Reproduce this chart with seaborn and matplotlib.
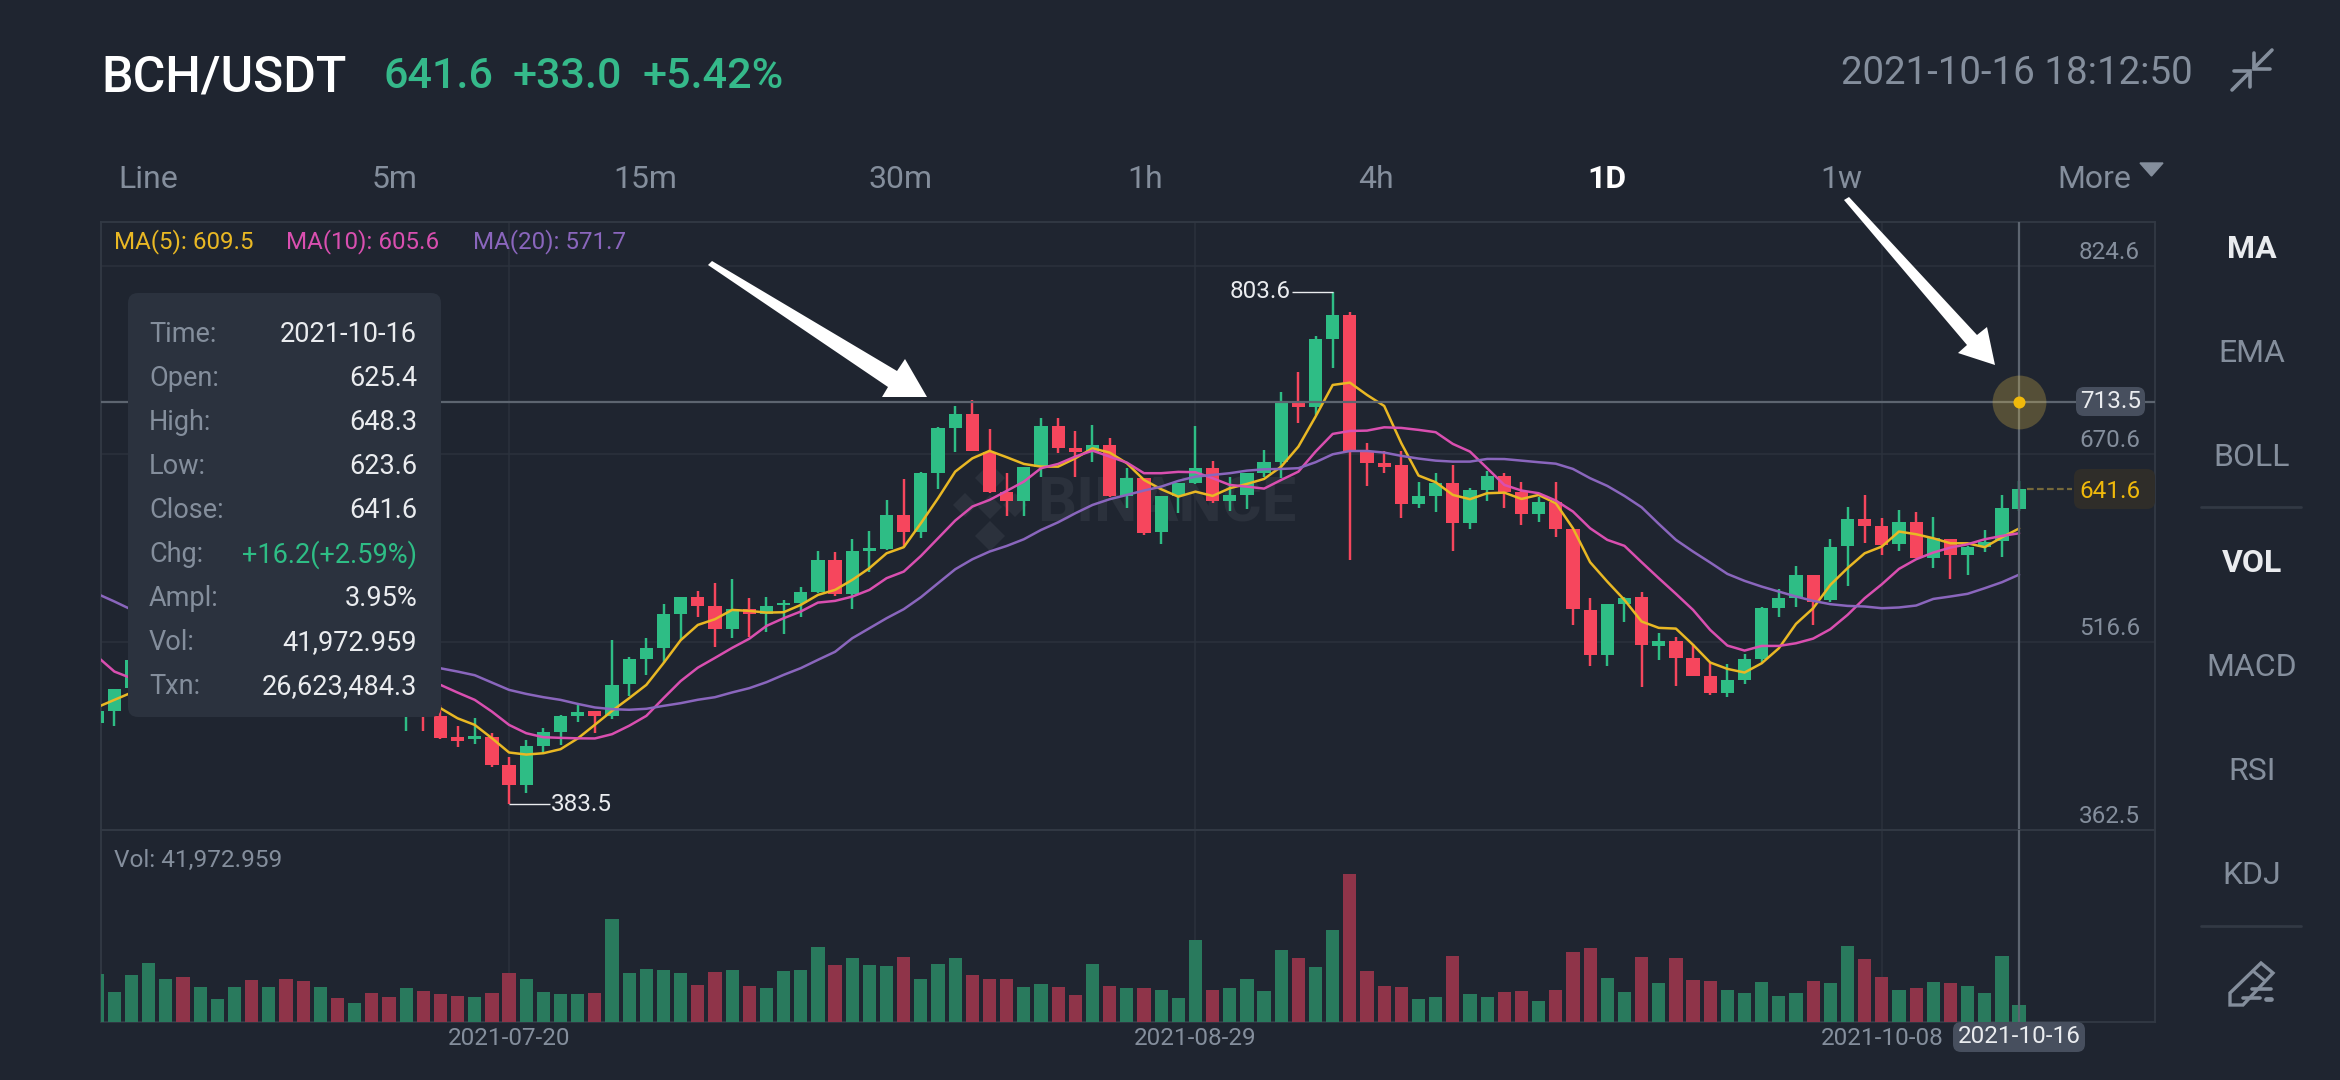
import matplotlib
matplotlib.use("Agg")
import matplotlib.pyplot as plt
from matplotlib.patches import FancyBboxPatch, Polygon
import numpy as np
import seaborn as sns

# candles, one per day, 2021-06-26 .. 2021-10-16
opens = [450, 460.3, 478.7, 502, 520, 532, 518, 528, 536, 544,
         530, 540, 522, 508, 516, 504, 510, 496, 470, 480,
         456.3, 439, 436.9, 438.5, 415.6, 399.5, 431.4, 442.6, 455.5, 459.6,
         456, 482, 502.5, 512, 539.5, 553.2, 546.1, 527, 543.4, 539.5,
         546.9, 548.8, 557.6, 583.8, 555.9, 591.4, 592.5, 620.4, 606.4, 654.8,
         692.2, 703.4, 672.5, 639.5, 632.4, 659.7, 693.8, 675.2, 672.5, 678,
         636.2, 650.7, 606.4, 636.2, 647.1, 658.9, 632.4, 637, 655.3, 664.3,
         713.5, 709.4, 764.5, 784.4, 673.3, 663.5, 661.6, 629.4, 636.5, 646.6,
         614.3, 641.1, 652.6, 639.7, 621.4, 631, 608.9, 542.8, 505.9, 547.7,
         553.2, 513.6, 517.2, 503.8, 488.8, 474.6, 485.5, 503, 544.2, 552.4,
         571.5, 551, 595.3, 617.4, 611.6, 596.9, 615.2, 585.2, 601, 587.9,
         594.7, 599.3, 625.4]
closes = [460.1, 478.4, 501.9, 520, 532, 518, 528, 536, 544, 530,
          540, 522, 508, 516, 504, 510, 496, 484, 480, 465,
          438.2, 435.8, 439.6, 415.8, 399.5, 431.4, 442.6, 455.5, 459.3, 455.5,
          481.4, 502.5, 512, 539.3, 553.2, 546.1, 527, 543.4, 539.5, 546.1,
          548.8, 557.6, 583.8, 555.6, 591.4, 593.9, 620.4, 606.4, 654.8, 692.2,
          703.4, 673.3, 639.5, 632.4, 659.7, 693.8, 675.8, 672, 678, 636.2,
          650.7, 606.2, 636.2, 646.6, 658.9, 632.4, 637, 655.3, 664.3, 713.5,
          709.1, 764.5, 784.4, 673.3, 663, 660.2, 629.4, 636.2, 646.6, 614.3,
          641.1, 652.6, 639.7, 621.4, 631, 608.9, 543.4, 505.9, 547.7, 552.9,
          514.2, 517.2, 503.8, 488.8, 474.6, 485.5, 503, 544.2, 552.4, 571,
          549.6, 594.7, 617.4, 611.6, 596, 615.2, 585.2, 601.5, 587.9, 594.7,
          598.8, 626.1, 641.6]
highs = [460.1, 478.4, 502, 528, 540, 538, 534, 541, 550, 548,
         545, 543, 526, 520, 519, 514, 513, 499, 486, 484,
         465, 447.3, 454.1, 442.3, 422.7, 436.4, 445.9, 456.8, 464.8, 460,
         518.2, 504.6, 519.6, 547.7, 553.5, 558.4, 565.2, 567.9, 552.4, 553.2,
         551, 561.4, 591.2, 590, 601.2, 607.8, 632.9, 650.1, 655.6, 693,
         709.9, 714.8, 691, 655.3, 660, 700.3, 699.8, 689.4, 694.3, 684,
         658.9, 651, 636.5, 647, 693.5, 665.1, 651.5, 655.3, 673.9, 721.6,
         737.5, 767.2, 803.6, 787.2, 679.3, 673.3, 673.3, 648, 655.3, 661.6,
         642.5, 656.7, 655.3, 648, 635.6, 647.4, 609, 552.4, 548, 553,
         557.3, 523.7, 520.4, 514.7, 499.1, 498.3, 506.5, 545, 560, 579.1,
         571.5, 600.7, 626.9, 637, 617.9, 624.7, 623.4, 618.7, 601, 595,
         608.4, 637, 648.3]
lows = [450, 447.3, 478, 495, 512, 512, 514, 524, 531, 526,
        526, 518, 503, 504, 500, 499, 492, 480, 444, 444,
        437, 430.9, 432.8, 414, 383.5, 392.7, 426.8, 432.2, 450.6, 441.9,
        453.3, 471.9, 489.6, 499.2, 518.2, 537.4, 512.8, 520.2, 521, 525.1,
        523.2, 537.4, 557, 554.3, 543.6, 574.2, 592, 594.7, 601.5, 641.9,
        672.2, 673, 638.4, 620.1, 620.1, 652, 671.1, 652, 664.3, 635.1,
        626.6, 604.3, 596.6, 622.5, 646, 630.2, 624.2, 625.3, 652, 650.7,
        696.3, 702.5, 741.3, 583.8, 644.4, 655.3, 618.4, 626.1, 623.4, 591.4,
        608.9, 632.4, 626.1, 612.4, 614.6, 602.3, 530.5, 497, 497, 532.7,
        479.5, 501.9, 480.6, 488.5, 472.7, 471.8, 482.2, 500.5, 536.8, 545,
        530.5, 549.6, 562.5, 598, 587.9, 591.4, 585, 577, 568.2, 571.8,
        590.6, 586, 623.6]

ma5 = [463.1, 469.1, 475.1, 482, 490, 497, 503, 510, 515, 520,
       522, 523, 521, 517, 512, 506, 500, 492, 482, 472,
       462.3, 454, 448.6, 437.7, 426, 424.3, 425.4, 428.7, 437.5, 448.7,
       460.1, 470.5, 481.4, 499.2, 518, 530.5, 535.2, 542.8, 542, 540.6,
       540.9, 546.9, 555.1, 559.2, 567.4, 577, 589.2, 594.2, 613.8, 634.3,
       656.1, 667, 673.1, 667.9, 662.4, 660.2, 660.2, 667, 675.2, 671.7,
       663, 649.3, 641.7, 635.6, 639.7, 636.2, 642.5, 646, 650.1, 660.2,
       676.6, 701.2, 727.1, 729, 718.9, 709.9, 679.3, 652.9, 647.4, 637,
       633.5, 638.4, 638.9, 633.7, 637, 630.2, 609.7, 581.9, 566, 551,
       533.3, 528.1, 527.5, 514.2, 499.7, 494.5, 491.5, 499.1, 511.4, 531.4,
       544.2, 563.3, 577, 589.2, 594.7, 607, 604.8, 601.5, 597.4, 597.4,
       594.2, 602.3, 609.5]
ma10 = [504.6, 492.3, 486.8, 486, 488, 491, 494, 498, 502, 506,
        509, 511, 511, 509, 507, 504, 500, 496, 491, 486,
        481.4, 475.1, 469.1, 459.5, 448.6, 441.8, 438.5, 438, 437.6, 437.5,
        441, 447.9, 456, 470.5, 484.5, 495.5, 503.5, 511.7, 519.2, 529.7,
        536, 541.5, 548.8, 550.2, 553.7, 559.2, 568.8, 574.2, 587, 601.5,
        616, 627.5, 632.9, 640.3, 647.9, 658.9, 662.4, 668.4, 673.3, 668.4,
        663.5, 654.8, 654.8, 655.9, 655.6, 650.7, 645.2, 643.8, 642.2, 649.3,
        656.1, 672.5, 687, 689.4, 689.7, 692.4, 691.9, 690.3, 688.4, 678.8,
        672.5, 658.9, 645.2, 640.6, 638.4, 632.4, 623.4, 609.7, 600.2, 595.3,
        581.9, 568.8, 556, 542.8, 526.4, 513.6, 509.5, 513.3, 513.3, 515.5,
        519.3, 527, 538.7, 552.4, 563.8, 576.4, 584.3, 589.8, 593.9, 596.6,
        600.7, 603.4, 605.6]
ma20 = [556, 549.7, 543, 538, 534, 530, 527, 524, 522, 520,
        518, 516, 514, 512, 510, 508, 506, 503, 500, 497,
        495, 492.3, 489.3, 483.3, 477.3, 474, 471.3, 469.1, 465.8, 462.9,
        461.5, 461, 461.8, 464.2, 466.4, 469.2, 471.3, 475.2, 478.7, 483.6,
        489.6, 495.1, 501.9, 508.5, 519.6, 527.8, 536, 543.4, 553.2, 564.7,
        576.1, 584.3, 590.6, 595.2, 600.7, 608.3, 614.6, 622, 628.8, 633.5,
        637, 640.6, 643.8, 648.5, 652, 653.4, 654.8, 656.9, 658, 658.3,
        658.9, 663.8, 670.3, 673, 673, 671.7, 669, 666.8, 665.1, 664.3,
        664.3, 666.5, 666.4, 665.1, 663.8, 662.6, 658.3, 650.7, 644.4, 636.2,
        626.9, 613.3, 600.2, 590.6, 581.6, 572.3, 566.6, 561.9, 557.8, 553.8,
        550.2, 547.5, 546.1, 545.6, 544.2, 544.8, 546.4, 551.8, 553.8, 556,
        560.6, 565.5, 571.7]

# volume in thousands
vol_k = [120, 75, 117, 149, 108, 113, 87, 59, 87, 106,
         87, 108, 102, 87, 60, 48, 73, 63, 85, 78,
         71, 66, 63, 72, 122, 108, 76, 71, 70, 73,
         259, 123, 134, 130, 124, 92, 126, 130, 90, 86,
         127, 130, 188, 143, 160, 142, 141, 163, 108, 145,
         162, 118, 108, 108, 87, 96, 87, 69, 146, 91,
         85, 85, 80, 60, 205, 81, 85, 108, 77, 181,
         160, 139, 230, 371, 129, 90, 89, 58, 63, 167,
         71, 62, 76, 79, 54, 80, 177, 186, 110, 75,
         163, 97, 160, 105, 102, 80, 72, 100, 66, 72,
         102, 99, 192, 158, 113, 81, 85, 101, 97, 90,
         74, 167, 42]

price_ticks = [824.6, 670.6, 516.6, 362.5]
date_ticks = [24, 64, 104]
date_labels = ["2021-07-20", "2021-08-29", "2021-10-08"]
last_label = "2021-10-16"
cross_price = 713.5
period_tabs = ["Line", "5m", "15m", "30m", "1h", "4h", "1D", "1w", "More"]
side_tabs = ["MA", "EMA", "BOLL", "VOL", "MACD", "RSI", "KDJ"]
tip_names = ["Time:", "Open:", "High:", "Low:", "Close:", "Chg:", "Ampl:", "Vol:", "Txn:"]
tip_values = ["2021-10-16", "625.4", "648.3", "623.6", "641.6", "+16.2(+2.59%)", "3.95%",
              "41,972.959", "26,623,484.3"]

BG = "#1f2530"
GRID = "#2b323d"
EDGE = "#323944"
GRAY = "#848e9c"
LIGHT = "#eaecef"
GREEN = "#2ebd85"
RED = "#f6465d"
YELLOW = "#f0b90b"
VOL_GREEN = "#297a5d"
VOL_RED = "#8f3449"
PINK = "#d94fb0"
PURPLE = "#8a66bd"
CROSS = "#5d6570"

sns.set_theme(style="dark", rc={"axes.facecolor": "none", "figure.facecolor": BG})
plt.rcParams["font.family"] = ["Roboto", "DejaVu Sans"]

W, H = 2340, 1080
fig = plt.figure(figsize=(W / 100, H / 100), dpi=100)


def box(x0, y0, x1, y1):
    return [x0 / W, 1 - y1 / H, (x1 - x0) / W, (y1 - y0) / H]


# layers: page background under the panes, overlay on top of them
back = fig.add_axes([0, 0, 1, 1], zorder=-1)
front = fig.add_axes([0, 0, 1, 1], zorder=5)
for a in (back, front):
    a.set_xlim(0, W)
    a.set_ylim(H, 0)
    a.axis("off")

ax = fig.add_axes(box(100.5, 222, 2155, 830), zorder=1)
ax_vol = fig.add_axes(box(100.5, 830, 2155, 1022), zorder=1)

days = np.arange(len(closes))
o = np.array(opens)
c = np.array(closes)
up = c >= o

# watermark
back.text(1037, 505, "BINANCE", color="#2b313c", fontsize=44, fontweight="bold", va="center")
for cx, cy, r in [(990, 478, 15), (965, 505, 12), (1015, 505, 12), (990, 507, 12), (990, 536, 15)]:
    back.add_patch(Polygon([(cx - r, cy), (cx, cy - r), (cx + r, cy), (cx, cy + r)], color="#2b313c", lw=0))

# candles
ax.vlines(days, lows, highs, colors=[GREEN if u else RED for u in up], lw=1.75, zorder=2)
ax.bar(days, np.abs(c - o), bottom=np.minimum(o, c), width=0.77,
       color=[GREEN if u else RED for u in up], linewidth=0, edgecolor="none", zorder=3)

sns.lineplot(x=days, y=ma5, color="#e9b824", lw=1.8, ax=ax, zorder=4)
sns.lineplot(x=days, y=ma10, color=PINK, lw=1.8, ax=ax, zorder=4)
sns.lineplot(x=days, y=ma20, color=PURPLE, lw=1.8, ax=ax, zorder=4)

# volume
sns.barplot(x=days, y=vol_k, hue=np.where(up, "up", "down"), hue_order=["up", "down"],
            palette={"up": VOL_GREEN, "down": VOL_RED}, native_scale=True, dodge=False,
            width=0.77, saturation=1, legend=False, errorbar=None, linewidth=0, edgecolor="none",
            ax=ax_vol, zorder=3)

ax.set_xlim(0.19, 119.92)
ax.set_ylim(362.5, 860.6)
ax_vol.set_xlim(0.19, 119.92)
ax_vol.set_ylim(0, 482.5)

for a in (ax, ax_vol):
    a.set_xticks(date_ticks)
    a.tick_params(length=0, labelbottom=False, labelleft=False)
    a.set_xlabel("")
    a.set_ylabel("")
    a.grid(axis="x", color=GRID, lw=1.1, zorder=0)
    a.set_axisbelow(True)
    for s in a.spines.values():
        s.set_color(EDGE)
        s.set_linewidth(1.3)
        s.set_visible(True)
ax.set_yticks(price_ticks[:3])
ax.grid(axis="y", color=GRID, lw=1.1, zorder=0)
ax_vol.set_yticks([])

# price labels sit just above their grid lines
for p in price_ticks:
    ax.annotate(f"{p}", xy=(0.9927, p), xycoords=ax.get_yaxis_transform(), xytext=(0, 10),
                textcoords="offset points", ha="right", va="center", color=GRAY, fontsize=17.5)

# high / low callouts
hi = int(np.argmax(highs))
lo = int(np.argmin(lows))
ax.hlines(highs[hi], hi - 2.38, hi, color=LIGHT, lw=1, zorder=4)
ax.hlines(lows[lo], lo, lo + 2.38, color=LIGHT, lw=1, zorder=4)
ax.text(hi - 2.46, highs[hi], f"{highs[hi]}", color=LIGHT, fontsize=17.5, ha="right", va="center")
ax.text(lo + 2.46, lows[lo], f"{lows[lo]}", color=LIGHT, fontsize=17.5, ha="left", va="center")

# crosshair and last price
last = days[-1]
ax.axhline(cross_price, color=CROSS, lw=1.6, zorder=5)
ax.axvline(last, color=CROSS, lw=1.6, zorder=5)
ax_vol.axvline(last, color=CROSS, lw=1.6, zorder=5)
ax.scatter([last], [cross_price], s=1500, color="#e9c24a", alpha=0.27, lw=0, zorder=6)
ax.scatter([last], [cross_price], s=75, color=YELLOW, lw=0, zorder=7)
ax.hlines(closes[-1], last + 0.45, last + 3.1, color="#75683a", lw=1.6, linestyles=(0, (3, 1.5)), zorder=4)


def badge(x0, y0, x1, y1, color, r=8):
    front.add_patch(FancyBboxPatch((x0, y0), x1 - x0, y1 - y0, boxstyle=f"round,pad=0,rounding_size={r}",
                                   fc=color, ec="none"))


badge(2076, 387, 2145, 416, "#474f5e")
front.text(2110.5, 401.5, f"{cross_price}", color=LIGHT, fontsize=17.5, ha="center", va="center")
badge(2074, 469, 2155, 509, "#2f2d29")
front.text(2110, 491, f"{closes[-1]}", color=YELLOW, fontsize=17.5, ha="center", va="center")

# dates under the volume pane
for d, t in zip(date_ticks, date_labels):
    ax_vol.annotate(t, xy=(d, 0), xytext=(0, -12), textcoords="offset points", ha="center", va="center",
                    color=GRAY, fontsize=17.5, annotation_clip=False)
badge(1953, 1022, 2085, 1052, "#474f5e")
front.text(2019, 1036.5, last_label, color=LIGHT, fontsize=17.5, ha="center", va="center")

# tooltip
badge(128, 293, 441, 717, "#2b323e", r=10)
for n, v, y in zip(tip_names, tip_values, np.arange(335, 704, 44)):
    front.text(149, y, n, color=GRAY, fontsize=19.5, va="center")
    front.text(417, y, v, color=GREEN if v.startswith("+") else LIGHT, fontsize=19.5, ha="right", va="center")

# header
front.text(101, 77, "BCH/USDT", color="white", fontsize=36, fontweight="medium", va="center")
for x, t in zip([383, 513, 643], ["641.6", "+33.0", "+5.42%"]):
    front.text(x, 77, t, color="#35b98a", fontsize=31, fontweight="medium", va="center")
front.text(2193, 74, "2021-10-16 18:12:50", color=GRAY, fontsize=27.7, ha="right", va="center")

# collapse icon
for xs, ys in [([2272, 2254], [50, 68]), ([2254, 2254, 2270], [53, 69, 69]),
               ([2232, 2250], [90, 72]), ([2234, 2250, 2250], [71, 71, 87])]:
    front.plot(xs, ys, color=GRAY, lw=2.6, solid_joinstyle="miter")

# period tabs
for t, x in zip(period_tabs, [148, 395, 645, 901, 1145, 1376, 1607, 1841, 2094]):
    active = t == "1D"
    front.text(x, 179, t, color="white" if active else GRAY, fontsize=23,
               fontweight="bold" if active else "normal", ha="center", va="center")
front.add_patch(Polygon([(2140, 163), (2163, 163), (2151.5, 176)], color=GRAY))

# MA legend and vol label
for x, t, col in [(114, "MA(5): 609.5", "#e9b824"), (286, "MA(10): 605.6", PINK), (473, "MA(20): 571.7", PURPLE)]:
    front.text(x, 242, t, color=col, fontsize=17.4, va="center")
front.text(114, 860, "Vol: 41,972.959", color=GRAY, fontsize=17.6, va="center")

# side tabs
for t, y in zip(side_tabs, [249, 353, 457, 563, 668, 772, 875]):
    active = t in ("MA", "VOL")
    front.text(2252, y, t, color=LIGHT if active else GRAY, fontsize=23,
               fontweight="bold" if active else "normal", ha="center", va="center")
for y in (507, 926):
    front.plot([2201, 2301], [y, y], color=EDGE, lw=2)

# pencil icon
front.add_patch(Polygon([(2230, 1005), (2230, 993), (2261, 963), (2273, 973), (2243, 1005)],
                        fill=False, ec=GRAY, lw=2.4))
front.plot([2253, 2265], [971, 981], color=GRAY, lw=2.2)
front.plot([2252, 2271], [989, 989], color=GRAY, lw=2.6)
front.plot([2243, 2260], [998, 998], color=GRAY, lw=2.6)
front.plot([2266, 2271], [999, 999], color=GRAY, lw=3.4)

# hand-drawn arrows
front.add_patch(Polygon([(712, 261), (897, 371), (905, 359), (927, 397), (882, 397), (888, 387), (708, 265)],
                        color="white", lw=0))
front.add_patch(Polygon([(1849, 197), (1977, 335), (1987, 327), (1995, 365), (1958, 353), (1967, 345), (1844, 200)],
                        color="white", lw=0))

fig.savefig("out.png", dpi=100, facecolor=BG)
